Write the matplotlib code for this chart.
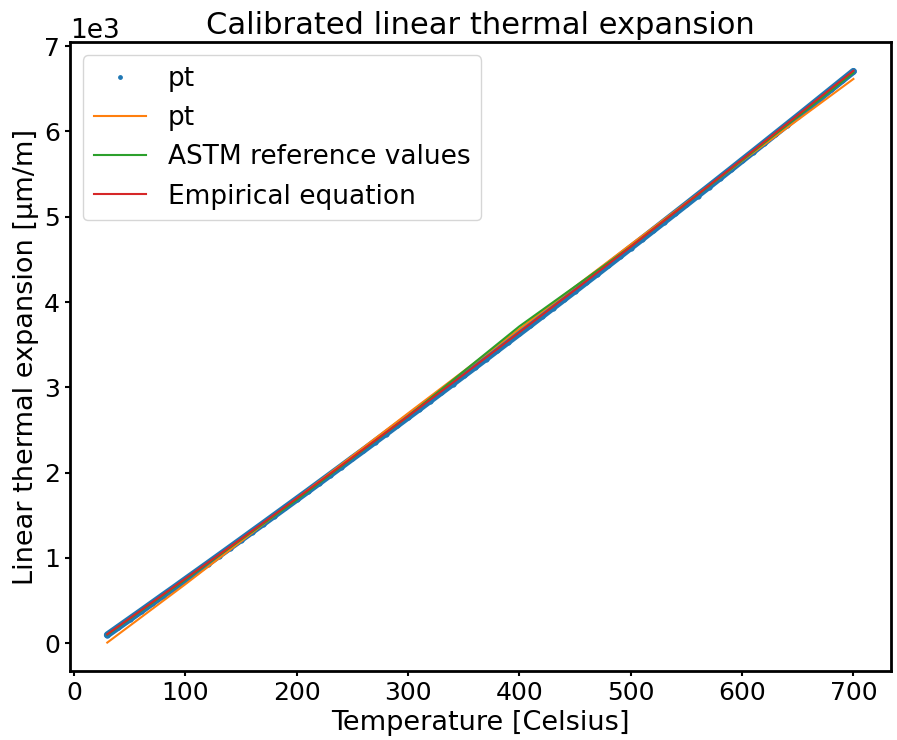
import numpy as np
import matplotlib.pyplot as plt

# measured points (every 10 C)
temp_pt = np.arange(30, 701, 10)
exp_pt = [97, 189, 281, 373, 466, 559, 651, 745, 838, 931,
          1025, 1119, 1213, 1308, 1402, 1497, 1592, 1687, 1782, 1878,
          1974, 2070, 2167, 2262, 2359, 2456, 2553, 2650, 2747, 2845,
          2943, 3041, 3139, 3237, 3336, 3435, 3534, 3633, 3732, 3832,
          3932, 4032, 4132, 4233, 4333, 4434, 4535, 4637, 4738, 4840,
          4942, 5044, 5146, 5249, 5351, 5454, 5557, 5661, 5764, 5868,
          5972, 6076, 6180, 6285, 6390, 6495, 6600, 6705]

# fitted pt curve
temp_fit = [30, 100, 200, 300, 400, 500, 600, 700]
exp_fit = [7, 690, 1695, 2695, 3685, 4675, 5655, 6616]

# ASTM reference values
temp_astm = [30, 100, 200, 300, 400, 500, 600, 700]
exp_astm = [100, 745, 1680, 2660, 3715, 4650, 5660, 6690]

# empirical equation
temp_emp = [30, 50, 100, 150, 200, 250, 300, 350, 400, 450, 500, 550, 600, 650, 700]
exp_emp = [105, 290, 755, 1222, 1697, 2177, 2660, 3150, 3645, 4143, 4648, 5157, 5672, 6192, 6712]

plt.rcParams['font.size'] = 18

fig = plt.figure(figsize=(8.97, 7.4), dpi=100)
ax = fig.add_axes([0.078, 0.093, 0.915, 0.85])

ax.plot(temp_pt, exp_pt, color='C0', lw=5, solid_capstyle='round')
ax.plot(temp_pt, exp_pt, '.', color='C0', ms=7, label='pt')
ax.plot(temp_fit, exp_fit, color='C1', lw=1.5, label='pt')
ax.plot(temp_astm, exp_astm, color='C2', lw=1.5, label='ASTM reference values')
ax.plot(temp_emp, exp_emp, color='C3', lw=1.5, label='Empirical equation')

ax.ticklabel_format(axis='y', style='sci', scilimits=(3, 3))
ax.yaxis.get_offset_text().set_fontsize(19)
ax.set_xlabel('Temperature [Celsius]', fontsize=19.5)
ax.set_ylabel('Linear thermal expansion [µm/m]', fontsize=19.5)
ax.set_title('Calibrated linear thermal expansion', fontsize=22)
for s in ax.spines.values():
    s.set_linewidth(2)
ax.tick_params(width=1.5)
leg = ax.legend(loc='upper left', fontsize=19, markerscale=0.7)

fig.savefig('out.png', dpi=100)
